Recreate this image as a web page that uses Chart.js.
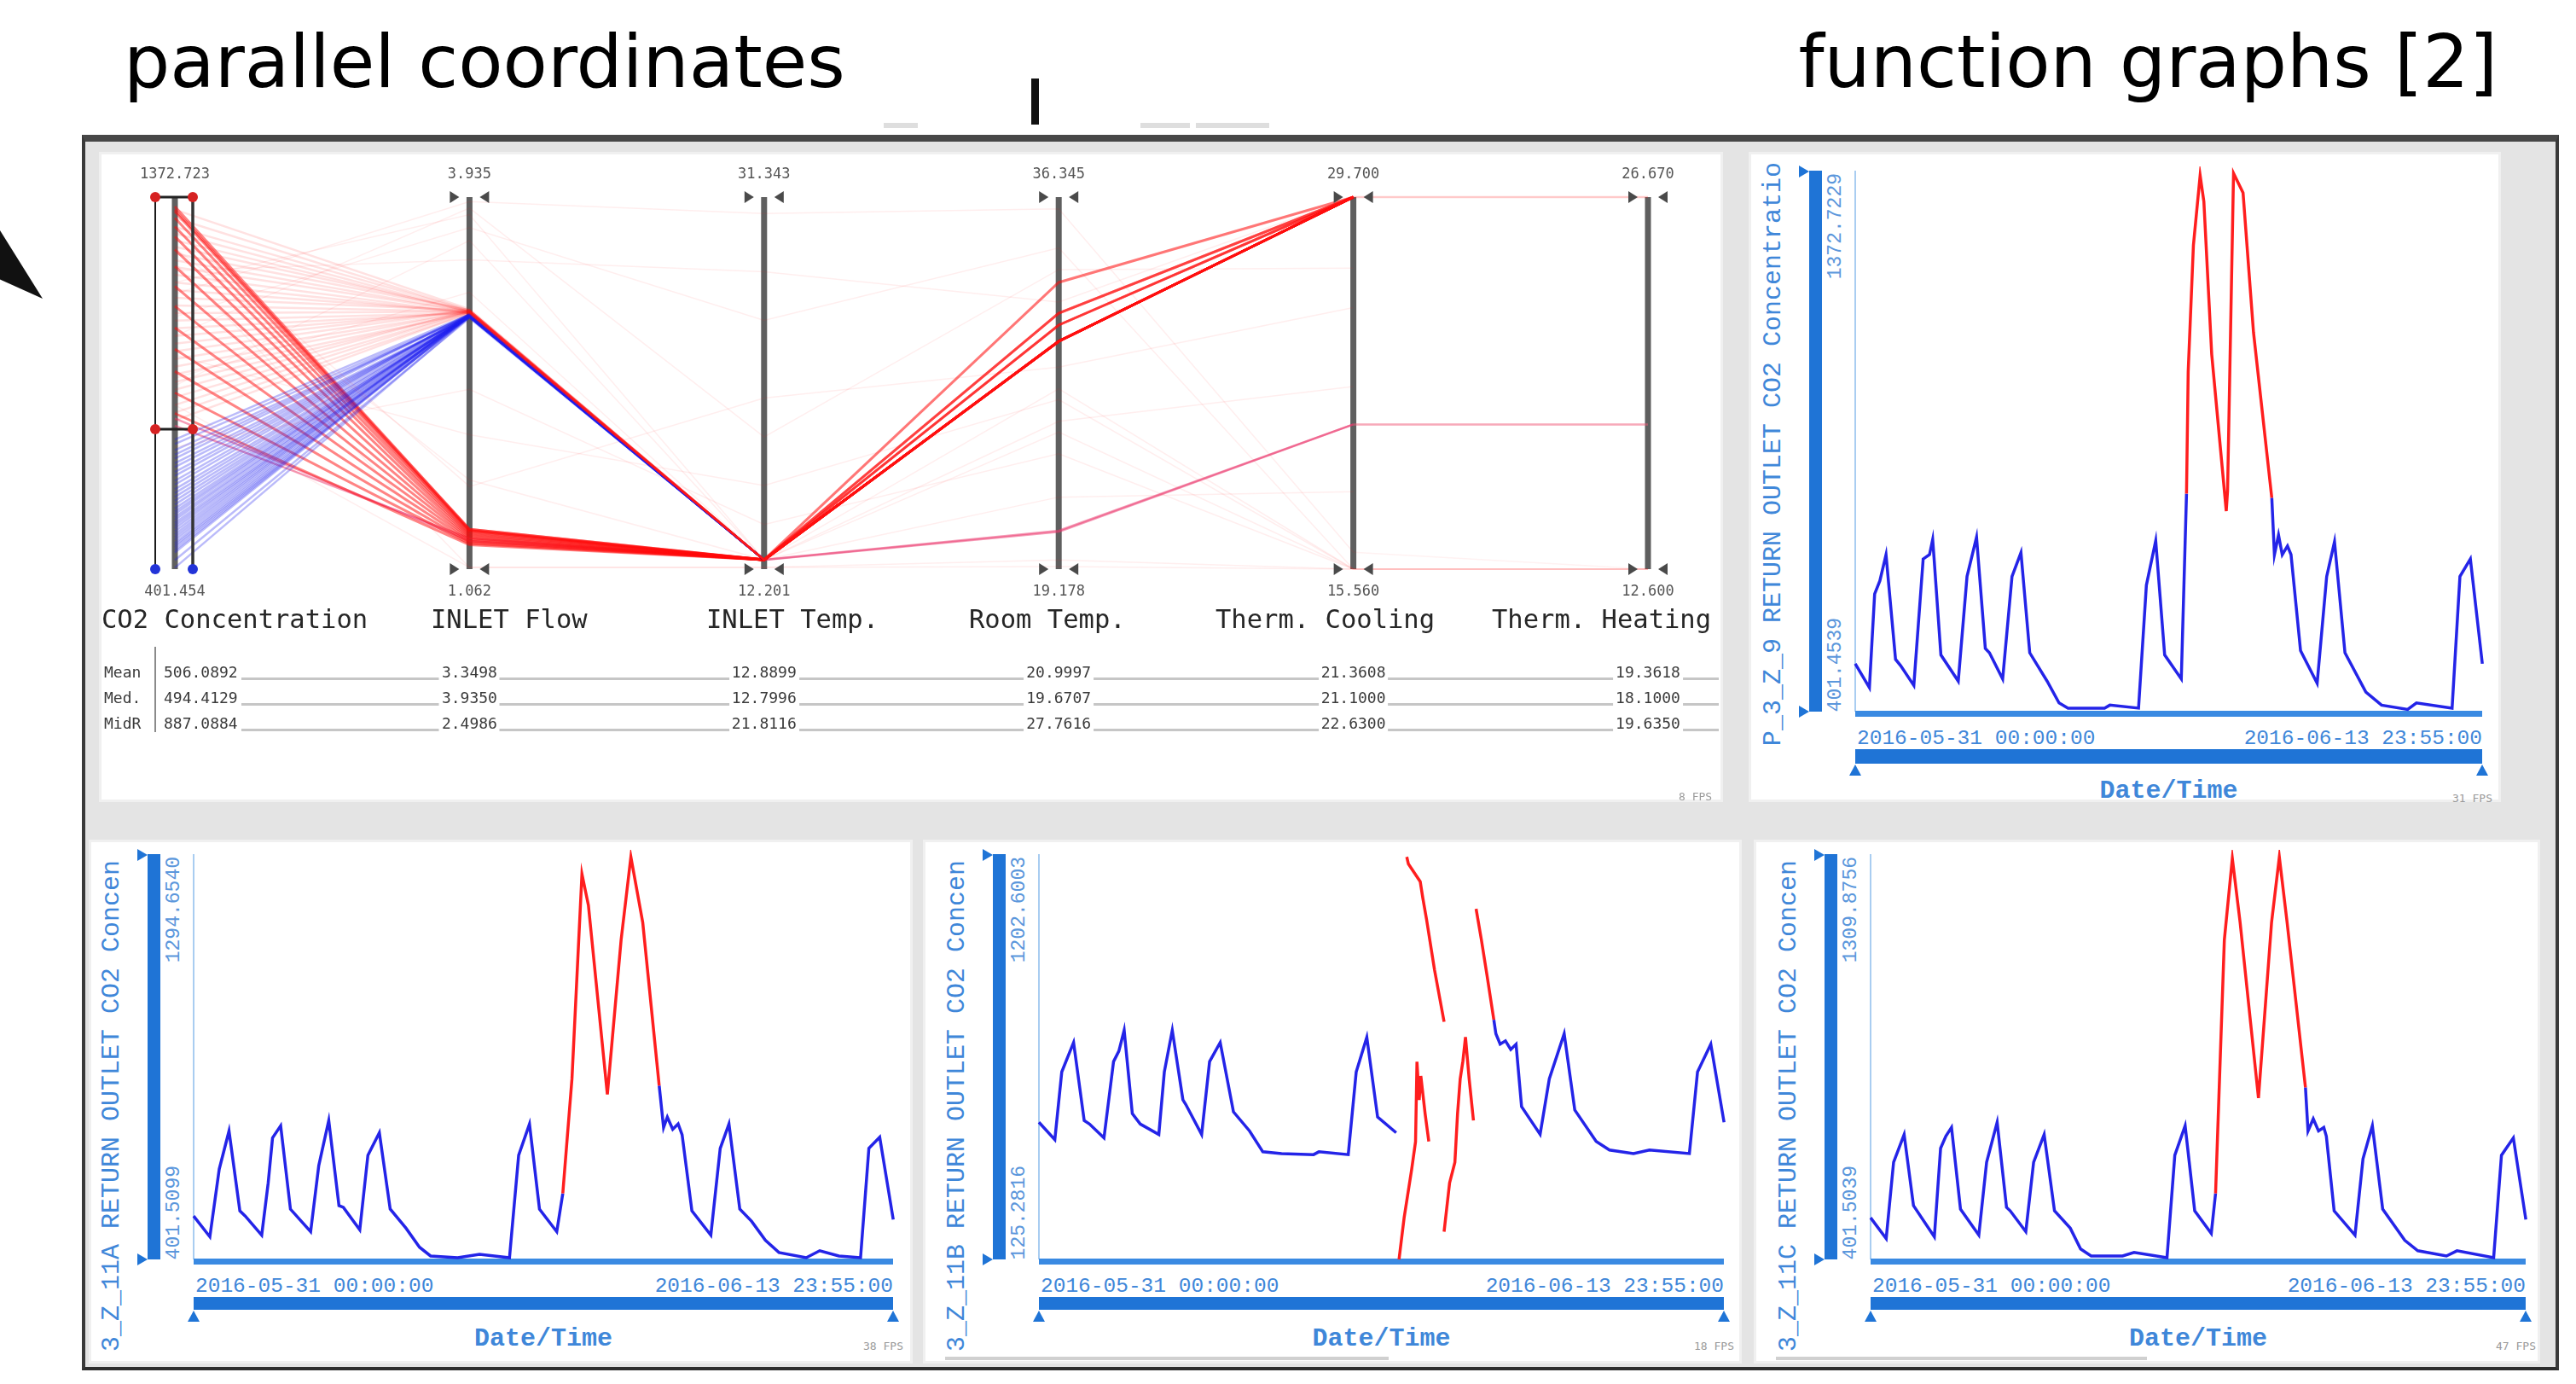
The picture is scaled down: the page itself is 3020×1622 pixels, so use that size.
<!DOCTYPE html>
<html>
<head>
<meta charset="utf-8">
<title>parallel coordinates / function graphs</title>
<script src="https://cdn.jsdelivr.net/npm/chart.js@4.4.3/dist/chart.umd.min.js"></script>
<style>
  html, body { margin: 0; padding: 0; background: #ffffff; }
  body { position: relative; width: 3020px; height: 1622px; overflow: hidden; font-family: "DejaVu Sans", sans-serif; }
  .abs { position: absolute; }
  .heading { position: absolute; top: 30px; font-family: "DejaVu Sans", sans-serif; font-size: 85.5px; line-height: 85.5px; color: #000; white-space: nowrap; }
  #frame { position: absolute; left: 96px; top: 158px; width: 2904px; height: 1448px; background: #e4e4e4; box-sizing: border-box;
           border-top: 8px solid #474747; border-left: 4px solid #3a3a3a; border-right: 4px solid #3a3a3a; border-bottom: 4px solid #2e2e2e; }
  .panel { position: absolute; background: #ffffff; overflow: hidden; box-shadow: inset 0 0 0 3px #f0f0f0; }
  .pc-tick { position: absolute; font-family: "DejaVu Sans Mono", monospace; font-size: 17px; line-height: 17px; color: #555; transform: translate(-50%, -50%); white-space: nowrap; }
  .pc-name { position: absolute; font-family: "DejaVu Sans Mono", monospace; font-size: 30.5px; line-height: 30px; color: #262626; white-space: nowrap; transform: translateY(-50%); }
  .pc-stat { position: absolute; font-family: "DejaVu Sans Mono", monospace; font-size: 18px; line-height: 18px; color: #3a3a3a; background: #fff; white-space: nowrap; transform: translateY(-50%); }
  .fg-text { position: absolute; font-family: "Liberation Mono", "Courier New", monospace; color: #3f87d9; white-space: nowrap; }
  .vert { writing-mode: vertical-rl; transform: rotate(180deg); }
  .fps { position: absolute; font-family: "DejaVu Sans Mono", monospace; font-size: 13px; line-height: 13px; color: #9a9a9a; white-space: nowrap; transform: translateY(-50%); }
  canvas { position: absolute; }
</style>
</head>
<body>
<div class="heading" style="left:145px;">parallel coordinates</div>
<div class="heading" style="right:92px;">function graphs [2]</div>
<div class="abs" style="left:0; top:270px; width:50px; height:80px; background:#111; clip-path: polygon(0 0, 100% 100%, 0 72%);"></div>
<div class="abs" style="left:1209px; top:92px; width:9px; height:54px; background:#111;"></div>
<div class="abs" style="left:1036px; top:144px; width:40px; height:6px; background:#dedede;"></div>
<div class="abs" style="left:1337px; top:144px; width:58px; height:6px; background:#dedede;"></div>
<div class="abs" style="left:1402px; top:144px; width:86px; height:6px; background:#dedede;"></div>
<div id="frame"></div>
<div class="panel" id="panel-pc" style="left:116px; top:178px; width:1904px; height:762px;"></div>
<canvas id="pc-chart" width="1919" height="770" style="left:106px; top:172px;"></canvas>

<script>
// ---------- parallel coordinates data ----------
const axisNames = ["CO2 Concentration", "INLET Flow", "INLET Temp.", "Room Temp.", "Therm. Cooling", "Therm. Heating"];
const axisMin = [401.454, 1.062, 12.201, 19.178, 15.560, 12.600];
const axisMax = [1372.723, 3.935, 31.343, 36.345, 29.700, 26.670];
const axisMinLabels = ["401.454", "1.062", "12.201", "19.178", "15.560", "12.600"];
const axisMaxLabels = ["1372.723", "3.935", "31.343", "36.345", "29.700", "26.670"];
const brushCo2 = [766.8, 1372.723];

const statNames = ["Mean", "Med.", "MidR"];
const statMean = ["506.0892", "3.3498", "12.8899", "20.9997", "21.3608", "19.3618"];
const statMedian = ["494.4129", "3.9350", "12.7996", "19.6707", "21.1000", "18.1000"];
const statMidRange = ["887.0884", "2.4986", "21.8116", "27.7616", "22.6300", "19.6350"];

// brushed records (red), low inlet flow
const pcSelectedLowFlow = [
  [1348, 1.37, 12.68, 29.69, 29.70, null],
  [1340, 1.37, 12.68, 29.69, 29.70, null],
  [1335, 1.36, 12.68, 29.69, 29.70, null],
  [1318, 1.36, 12.67, 30.44, 29.70, null],
  [1296, 1.35, 12.68, 29.69, 29.70, null],
  [1270, 1.34, 12.69, 30.99, 29.70, null],
  [1236, 1.33, 12.68, 29.69, 29.70, null],
  [1192, 1.32, 12.68, 29.69, 29.70, null],
  [1140, 1.31, 12.67, 30.44, 29.70, null],
  [1088, 1.30, 12.68, 29.69, 29.70, null],
  [1032, 1.29, 12.68, 29.69, 29.70, null],
  [976, 1.28, 12.69, 32.41, 29.70, null],
  [918, 1.27, 12.68, 29.69, 29.70, null],
  [862, 1.26, 12.68, 30.99, 29.70, null],
  [808, 1.25, 12.68, 29.69, 29.70, null],
];
// brushed records (red), high inlet flow
const pcSelectedHighFlow = [
  [1340, 3.07, 12.68, 29.69, 29.70, 26.67],
  [1318, 3.06, 12.68, 29.69, 29.70, null],
  [1295, 3.06, 12.68, 30.44, 29.70, null],
  [1278, 3.05, 12.68, 29.69, 29.70, null],
  [1260, 3.05, 12.68, 29.69, 29.70, null],
  [1243, 3.06, 12.67, 29.69, 29.70, null],
  [1225, 3.06, 12.67, 29.69, 29.70, null],
  [1208, 3.05, 12.68, 29.69, 29.70, null],
  [1190, 3.05, 12.68, 30.99, 29.70, 26.67],
  [1170, 3.04, 12.68, 29.69, 29.70, null],
  [1150, 3.04, 12.68, 29.69, 29.70, null],
  [1130, 3.05, 12.68, 29.69, 29.70, null],
  [1110, 3.06, 12.69, 29.69, 29.70, null],
  [1090, 3.05, 12.68, 29.69, 29.70, null],
  [1070, 3.05, 12.68, 30.44, 29.70, null],
  [1050, 3.04, 12.68, 29.69, 29.70, null],
  [1030, 3.04, 12.68, 29.69, 29.70, null],
  [1010, 3.05, 12.68, 29.69, 29.70, null],
  [990, 3.06, 12.68, 29.69, 29.70, null],
  [970, 3.06, 12.68, 29.69, 29.70, null],
  [950, 3.05, 12.67, 32.41, 29.70, null],
  [930, 3.05, 12.68, 29.69, 29.70, null],
  [910, 3.04, 12.68, 29.69, 29.70, null],
  [890, 3.05, 12.68, 29.69, 29.70, null],
  [870, 3.06, 12.68, 29.69, 29.70, null],
  [850, 3.05, 12.68, 29.69, 29.70, null],
  [830, 3.05, 12.68, 30.44, 29.70, null],
  [810, 3.04, 12.68, 29.69, 29.70, null],
  [790, 3.04, 12.68, 29.69, 29.70, null],
];
// brushed records on the warm-room path (pink)
const pcSelectedPink = [
  [795, 1.28, 12.68, 20.95, 21.06, 18.07],
  [776, 1.30, 12.67, 20.90, 21.06, 18.07],
];
// records outside the brush (blue)
const pcUnselected = [
  [740, 3.03, 12.68, null, null, null],
  [728, 3.02, 12.68, null, null, null],
  [712, 3.02, 12.68, null, null, null],
  [700, 3.03, 12.68, null, null, null],
  [690, 3.03, 12.68, null, null, null],
  [678, 3.01, 12.68, null, null, null],
  [668, 3.01, 12.68, null, null, null],
  [655, 3.02, 12.68, null, null, null],
  [645, 3.02, 12.68, null, null, null],
  [632, 3.03, 12.68, null, null, null],
  [622, 3.03, 12.68, null, null, null],
  [610, 3.02, 12.68, null, null, null],
  [600, 3.02, 12.68, null, null, null],
  [590, 3.01, 12.68, null, null, null],
  [580, 3.01, 12.68, null, null, null],
  [570, 3.02, 12.68, null, null, null],
  [560, 3.02, 12.68, null, null, null],
  [552, 3.03, 12.68, null, null, null],
  [545, 3.03, 12.68, null, null, null],
  [537, 3.02, 12.68, null, null, null],
  [530, 3.02, 12.68, null, null, null],
  [522, 3.01, 12.68, null, null, null],
  [515, 3.01, 12.68, null, null, null],
  [508, 3.02, 12.68, null, null, null],
  [500, 3.02, 12.68, null, null, null],
  [492, 3.03, 12.68, null, null, null],
  [485, 3.03, 12.68, null, null, null],
  [478, 3.02, 12.68, null, null, null],
  [470, 3.02, 12.68, null, null, null],
  [464, 3.01, 12.68, null, null, null],
  [458, 3.01, 12.68, null, null, null],
  [451, 3.02, 12.68, null, null, null],
  [445, 3.02, 12.68, null, null, null],
  [425, 3.00, 12.68, null, null, null],
  [405, 3.01, 12.68, null, null, null],
];
// faint context records
const pcContext = [
  [1120, 3.90, 30.5, 35.8, 16.2, 12.6],
  [1060, 3.70, 25.0, 34.0, 15.56, 12.6],
  [960, 2.10, 16.5, 27.0, 15.56, 12.6],
  [1240, 1.75, 12.68, 26.0, 22.5, null],
  [720, 2.45, 14.5, 24.5, 15.56, 12.6],
  [1180, 3.45, 27.5, 31.5, 29.7, 26.67],
  [880, 3.60, 12.68, 22.5, 18.5, null],
  [1290, 1.70, 21.0, 28.5, 25.5, null],
  [1010, 3.85, 19.0, 33.0, 27.0, null],
  [830, 1.075, 12.29, 19.6, 15.56, 12.6],
  [1200, 1.075, 12.29, 19.3, 15.56, 12.6],
  [1150, 3.80, 12.68, 27.5, 15.56, 12.6],
  [900, 3.20, 12.68, 25.5, 15.56, 12.6],
];

// ---------- function graph data (hours since 2016-05-31 00:00, CO2) ----------
const z9Points = [
  [0, 487.9], [7.6, 444.7], [10.4, 613.8], [13.2, 637.4], [16.5, 684.6], [21.6, 495.8], [24.4, 484.0], [31.4, 448.6],
  [36.4, 676.7], [39.8, 684.6], [41.5, 712.0], [42.2, 680.0], [45.9, 503.7], [55.2, 456.5], [59.9, 645.2], [65.0, 716.0],
  [69.7, 515.5], [71.9, 507.6], [79.0, 460.4], [84.0, 645.2], [88.8, 688.5], [93.5, 507.6], [102.8, 456.5], [109.2, 417.2],
  [114.0, 407.7], [133.6, 407.7], [136.4, 413.2], [151.8, 407.7], [156.0, 629.5], [161.0, 709.7], [165.8, 503.7], [174.7, 460.4],
  [177.5, 794.6], [178.4, 1014.8], [181.2, 1242.9], [184.8, 1368.7], [186.8, 1321.6], [191.0, 1046.3], [198.8, 763.2], [199.5, 800.0],
  [202.7, 1372.7], [207.8, 1337.3], [213.4, 1085.6], [223.2, 786.8], [224.6, 684.6], [226.8, 720.0], [228.8, 684.6], [231.6, 700.3],
  [233.5, 684.6], [238.6, 511.6], [247.5, 452.6], [252.6, 645.2], [256.8, 708.1], [262.4, 507.6], [273.6, 436.8], [282.0, 413.2],
  [296.0, 405.4], [300.7, 417.2], [319.8, 407.7], [324.0, 645.2], [329.6, 676.7], [336.0, 487.9],
];
const z11aPoints = [
  [0, 497.8], [7.8, 451.6], [12.3, 601.7], [17.0, 686.4], [22.2, 509.3], [24.8, 497.8], [32.7, 455.4], [35.8, 570.9],
  [37.9, 671.0], [41.8, 698.0], [46.5, 513.0], [56.2, 463.0], [60.1, 609.4], [64.9, 709.5], [69.8, 520.9], [71.9, 517.0],
  [79.8, 467.0], [83.7, 632.5], [89.2, 682.6], [94.4, 513.2], [102.0, 470.8], [108.5, 428.5], [113.8, 409.2], [126.8, 405.4],
  [137.3, 413.0], [151.7, 405.4], [156.1, 632.5], [161.3, 701.8], [166.1, 513.2], [174.4, 463.1], [177.3, 547.8], [181.7, 801.9],
  [186.5, 1256.0], [189.6, 1187.0], [198.7, 767.3], [205.3, 1110.0], [210.0, 1294.0], [215.7, 1148.4], [223.6, 786.6], [225.7, 694.0],
  [227.5, 717.0], [230.1, 690.0], [232.7, 702.0], [234.6, 678.0], [239.3, 509.3], [248.4, 455.4], [252.9, 647.9], [257.1, 701.8],
  [262.3, 513.2], [268.0, 486.0], [274.6, 443.9], [281.1, 416.9], [294.2, 405.4], [300.7, 420.8], [309.9, 409.2], [320.3, 405.4],
  [324.3, 647.9], [329.5, 672.5], [336.0, 490.0],
];
const z11bPoints = [
  [0, 492.1], [7.8, 445.7], [11.2, 626.8], [17.0, 705.7], [22.2, 496.8], [24.8, 487.5], [31.9, 450.3], [36.6, 654.6],
  [39.2, 682.5], [41.8, 738.2], [45.8, 515.3], [49.7, 487.5], [58.8, 459.6], [61.5, 626.8], [65.4, 738.2], [70.6, 552.5],
  [72.0, 540.0], [79.8, 459.6], [83.7, 654.6], [88.9, 705.7], [95.4, 520.0], [103.3, 468.9], [109.8, 413.2], [119.0, 408.5],
  [134.7, 405.7], [137.3, 413.2], [151.7, 405.7], [155.6, 626.8], [160.8, 719.6], [166.1, 506.1], [175.2, 464.3],
  null,
  [176.6, 125.3], [179.1, 236.7], [182.8, 366.0], [184.7, 440.0], [185.4, 654.0], [186.5, 552.0], [187.3, 616.0], [189.4, 515.0], [191.2, 441.0],
  null,
  [180.4, 1202.0], [181.2, 1183.0], [187.0, 1136.0], [188.3, 1091.0], [190.1, 1035.0], [194.0, 900.0], [198.7, 761.0],
  null,
  [198.7, 199.6], [201.4, 330.0], [204.0, 385.0], [205.3, 515.0], [206.6, 608.0], [207.9, 655.0], [209.2, 720.0], [211.0, 608.0], [213.1, 497.0],
  null,
  [214.4, 1063.0], [217.0, 980.0], [219.7, 887.0], [223.1, 766.0], [224.1, 729.0], [226.2, 701.0], [228.8, 710.0], [231.4, 687.0],
  [234.0, 701.0], [236.7, 534.0], [245.8, 460.0], [250.3, 608.0], [257.6, 729.0], [262.8, 525.0], [273.3, 441.0], [279.8, 418.0],
  [291.6, 408.5], [299.4, 418.0], [319.0, 408.5], [323.0, 627.0], [329.5, 701.0], [336.0, 492.1],
];
const z11cPoints = [
  [0, 495.5], [8.0, 448.5], [11.8, 620.8], [17.2, 683.4], [22.0, 522.9], [32.7, 452.4], [35.9, 652.1], [38.6, 679.5],
  [41.5, 699.1], [46.1, 515.0], [55.5, 456.3], [59.5, 620.8], [64.9, 710.8], [69.7, 519.0], [71.6, 511.1], [79.6, 464.1],
  [83.6, 620.8], [89.0, 683.4], [94.3, 511.1], [102.4, 472.0], [107.7, 425.0], [113.1, 409.3], [129.2, 409.3], [135.1, 417.2],
  [152.0, 405.4], [156.0, 636.4], [161.3, 703.0], [166.2, 511.1], [174.7, 460.2], [176.9, 550.3], [181.4, 1122.0], [185.5, 1306.0],
  [189.5, 1161.0], [198.9, 765.6], [205.6, 1161.0], [209.6, 1309.0], [213.6, 1161.0], [223.0, 789.1], [224.3, 691.2], [227.0, 718.6],
  [229.7, 691.2], [232.4, 699.1], [233.7, 679.5], [237.7, 511.1], [248.4, 456.3], [252.5, 628.6], [257.3, 703.0], [262.6, 515.0],
  [273.9, 444.6], [280.6, 421.1], [295.3, 409.3], [300.7, 421.1], [319.5, 405.4], [323.5, 636.4], [329.6, 675.6], [336.0, 491.6],
];

const fgSeries = [z9Points, z11aPoints, z11bPoints, z11cPoints];
const fgNames = ["P_3_Z_9 RETURN OUTLET CO2 Concentratio", "3_Z_11A RETURN OUTLET CO2 Concen", "3_Z_11B RETURN OUTLET CO2 Concen", "3_Z_11C RETURN OUTLET CO2 Concen"];
const fgMin = [401.4539, 401.5099, 125.2816, 401.5039];
const fgMax = [1372.7229, 1294.6540, 1202.6003, 1309.8756];
const fgMinLabels = ["401.4539", "401.5099", "125.2816", "401.5039"];
const fgMaxLabels = ["1372.7229", "1294.6540", "1202.6003", "1309.8756"];
const fgFps = ["31 FPS", "38 FPS", "18 FPS", "47 FPS"];
const dateRangeLabels = ["2016-05-31 00:00:00", "2016-06-13 23:55:00"];
const hoursSpan = 335.9167;
const selectedHours = [176.5, 224.0];

// ---------- layout ----------
const LINE_BLUE = "#2424e8";
const LINE_RED = "#ff1e1e";
const UI_BLUE = "#1f74d6";
const UI_BLUE_LIGHT = "#a9cdf1";

const pcBox = { left: 106, top: 172 };
const pcPad = { left: 99, right: 93, top: 59, bottom: 275 };
const pcNameLefts = [119, 505, 828, 1136, 1425, 1749];
const pcStatRowY = [788, 818, 848];

const fgLayout = [
  { panel: [2050, 178, 882, 762], plot: [2175, 203, 2910, 834], nameBottom: 874, barH: 17 },
  { panel: [104, 984, 966, 614], plot: [227, 1004, 1047, 1476], nameBottom: 1584, barH: 15 },
  { panel: [1082, 984, 960, 614], plot: [1218, 1004, 2021, 1476], nameBottom: 1584, barH: 15 },
  { panel: [2056, 984, 922, 614], plot: [2193, 1004, 2961, 1476], nameBottom: 1584, barH: 15 },
];

function addEl(parent, cls, css, text) {
  const node = document.createElement("div");
  if (cls) node.className = cls;
  Object.assign(node.style, css);
  if (text != null) node.textContent = text;
  parent.appendChild(node);
  return node;
}
const px = (v) => `${v}px`;

// ---------- parallel coordinates chart ----------
const norm = (v, i) => (v - axisMin[i]) / (axisMax[i] - axisMin[i]);

function recordDatasets(rows, color, faded, width) {
  return rows.map((row) => ({
    data: row.map((v, i) => ({ x: i, y: v == null ? null : norm(v, i) })),
    borderColor: color,
    borderWidth: width,
    pointRadius: 0,
    tension: 0,
    clip: false,
    segment: { borderColor: (ctx) => (ctx.p0DataIndex >= 4 ? faded : undefined) },
  }));
}

function triangle(ctx, xBase, y, dir, w, h) {
  ctx.beginPath();
  ctx.moveTo(xBase, y - h / 2);
  ctx.lineTo(xBase + dir * w, y);
  ctx.lineTo(xBase, y + h / 2);
  ctx.closePath();
  ctx.fill();
}

const pcAxesPlugin = {
  id: "pcAxes",
  beforeDatasetsDraw(chart) {
    const { ctx, scales } = chart;
    ctx.save();
    ctx.strokeStyle = "#5f5f5f";
    ctx.lineWidth = 7;
    axisNames.forEach((_, i) => {
      const x = scales.x.getPixelForValue(i);
      ctx.beginPath();
      ctx.moveTo(x, scales.y.getPixelForValue(1));
      ctx.lineTo(x, scales.y.getPixelForValue(0));
      ctx.stroke();
    });
    ctx.restore();
  },
  afterDatasetsDraw(chart) {
    const { ctx, scales } = chart;
    const yTop = scales.y.getPixelForValue(1);
    const yBot = scales.y.getPixelForValue(0);
    ctx.save();
    ctx.fillStyle = "#4a4a4a";
    for (let i = 1; i < axisNames.length; i++) {
      const x = scales.x.getPixelForValue(i);
      [yTop, yBot].forEach((y) => {
        triangle(ctx, x - 23, y, 1, 11, 14);
        triangle(ctx, x + 23, y, -1, 11, 14);
      });
    }
    // brush box on the CO2 axis
    const x0 = scales.x.getPixelForValue(0);
    const xl = x0 - 23;
    const xr = x0 + 21;
    const yLo = scales.y.getPixelForValue(norm(brushCo2[0], 0));
    const yHi = scales.y.getPixelForValue(norm(brushCo2[1], 0));
    ctx.strokeStyle = "#1a1a1a";
    ctx.lineWidth = 2;
    ctx.beginPath();
    ctx.moveTo(xl, yTop); ctx.lineTo(xl, yBot);
    ctx.stroke();
    ctx.strokeStyle = "#333";
    ctx.lineWidth = 3.5;
    ctx.beginPath();
    ctx.moveTo(xr, yTop); ctx.lineTo(xr, yBot);
    ctx.stroke();
    ctx.strokeStyle = "#222";
    ctx.lineWidth = 3;
    ctx.beginPath();
    ctx.moveTo(xl, yHi); ctx.lineTo(xr, yHi);
    ctx.moveTo(xl, yLo); ctx.lineTo(xr, yLo);
    ctx.stroke();
    const dot = (x, y, fill) => {
      ctx.beginPath();
      ctx.arc(x, y, 6, 0, Math.PI * 2);
      ctx.fillStyle = fill;
      ctx.fill();
    };
    [xl, xr].forEach((x) => {
      dot(x, yHi, "#d62222");
      dot(x, yLo, "#d62222");
      dot(x, yBot, "#2233d8");
    });
    ctx.restore();
  },
};

const pcChart = new Chart(document.getElementById("pc-chart"), {
  type: "line",
  data: {
    datasets: [
      ...recordDatasets(pcContext, "rgba(255,40,40,0.08)", "rgba(255,40,40,0.06)", 1.5),
      ...recordDatasets(pcSelectedHighFlow, "rgba(255,20,20,0.13)", "rgba(255,20,20,0.1)", 2.5),
      ...recordDatasets(pcUnselected, "rgba(30,30,240,0.3)", "rgba(30,30,240,0.12)", 2.5),
      ...recordDatasets(pcSelectedLowFlow, "rgba(255,10,10,0.5)", "rgba(255,10,10,0.25)", 3),
      ...recordDatasets(pcSelectedPink, "rgba(235,55,110,0.5)", "rgba(240,90,120,0.3)", 2.5),
    ],
  },
  options: {
    responsive: false,
    animation: false,
    events: [],
    layout: { padding: pcPad },
    plugins: { legend: { display: false }, tooltip: { enabled: false } },
    scales: {
      x: { type: "linear", min: 0, max: axisNames.length - 1, display: false },
      y: { type: "linear", min: 0, max: 1, display: false },
    },
  },
  plugins: [pcAxesPlugin],
});

const pcX = axisNames.map((_, i) => pcBox.left + pcChart.scales.x.getPixelForValue(i));
const pcYTop = pcBox.top + pcChart.scales.y.getPixelForValue(1);
const pcYBot = pcBox.top + pcChart.scales.y.getPixelForValue(0);

axisNames.forEach((name, i) => {
  addEl(document.body, "pc-tick", { left: px(pcX[i]), top: px(pcYTop - 28) }, axisMaxLabels[i]);
  addEl(document.body, "pc-tick", { left: px(pcX[i]), top: px(pcYBot + 25) }, axisMinLabels[i]);
  addEl(document.body, "pc-name", { left: px(pcNameLefts[i]), top: px(726) }, name);
});

// statistics table
[statMean, statMedian, statMidRange].forEach((row, r) => {
  const y = pcStatRowY[r];
  addEl(document.body, "abs", { left: px(192), top: px(y + 6), width: px(2015 - 192), height: px(3), background: "#c6c6c6" });
  addEl(document.body, "pc-stat", { left: px(122), top: px(y) }, statNames[r]);
  addEl(document.body, "pc-stat", { left: px(192), top: px(y), paddingRight: "4px" }, row[0]);
  row.slice(1).forEach((val, k) => {
    const node = addEl(document.body, "pc-stat", { left: px(pcX[k + 1]), top: px(y), padding: "0 3px" }, val);
    node.style.transform = "translate(-50%, -50%)";
  });
});
addEl(document.body, "abs", { left: px(181), top: px(758), width: px(2), height: px(100), background: "#8a8a8a" });
addEl(document.body, "fps", { left: px(1968), top: px(933) }, "8 FPS");

// ---------- function graphs ----------
function seriesData(points) {
  const out = [];
  let lastX = 0;
  points.forEach((p) => {
    if (p === null) {
      out.push({ x: lastX, y: null });
      return;
    }
    out.push({ x: p[0], y: p[1] });
    lastX = p[0];
  });
  return out;
}
const inSelection = (ctx) => ctx.p0.parsed.x >= selectedHours[0] && ctx.p1.parsed.x <= selectedHours[1];

function triDiv(css) {
  return addEl(document.body, "abs", Object.assign({ width: "0", height: "0" }, css));
}

fgSeries.forEach((points, i) => {
  const lay = fgLayout[i];
  const [L, T, R, B] = lay.plot;
  const [pl, pt, pw, ph] = lay.panel;
  const panel = addEl(document.body, "panel", { left: px(pl), top: px(pt), width: px(pw), height: px(ph) });

  // vertical axis title (clipped by the panel)
  addEl(panel, "fg-text vert", {
    left: px(L - 96 - 15 - pl), bottom: px(pt + ph - lay.nameBottom),
    fontSize: "30px", lineHeight: "30px",
  }, fgNames[i]);

  // vertical range bar and handles
  addEl(document.body, "abs", { left: px(L - 54), top: px(T - 3), width: px(15), height: px(B - T + 3), background: UI_BLUE });
  triDiv({ left: px(L - 66), top: px(T - 9), borderTop: "7px solid transparent", borderBottom: "7px solid transparent", borderLeft: `12px solid ${UI_BLUE}` });
  triDiv({ left: px(L - 66), top: px(B - 7), borderTop: "7px solid transparent", borderBottom: "7px solid transparent", borderLeft: `12px solid ${UI_BLUE}` });

  // min / max tick labels
  addEl(document.body, "fg-text vert", { left: px(L - 35), top: px(T), fontSize: "23px", lineHeight: "24px", color: "#5b97dc" }, fgMaxLabels[i]);
  addEl(document.body, "fg-text vert", { left: px(L - 35), bottom: px(1622 - B), fontSize: "23px", lineHeight: "24px", color: "#5b97dc" }, fgMinLabels[i]);

  // thin y axis line and thick base line
  addEl(document.body, "abs", { left: px(L - 1), top: px(T - 3), width: px(2), height: px(B - T + 3), background: UI_BLUE_LIGHT });
  addEl(document.body, "abs", { left: px(L), top: px(B - 1), width: px(R - L), height: px(7), background: "#3a8ae2" });

  // date range labels
  addEl(document.body, "fg-text", { left: px(L + 2), top: px(B + 32), fontSize: "24.5px", lineHeight: "24px", transform: "translateY(-50%)" }, dateRangeLabels[0]);
  addEl(document.body, "fg-text", { right: px(3020 - R), top: px(B + 32), fontSize: "24.5px", lineHeight: "24px", transform: "translateY(-50%)" }, dateRangeLabels[1]);

  // horizontal range bar and handles
  addEl(document.body, "abs", { left: px(L), top: px(B + 44), width: px(R - L), height: px(lay.barH), background: UI_BLUE });
  [L, R].forEach((x) => {
    triDiv({ left: px(x - 7), top: px(B + 45 + lay.barH), borderLeft: "7px solid transparent", borderRight: "7px solid transparent", borderBottom: `13px solid ${UI_BLUE}` });
  });

  addEl(document.body, "fg-text", { left: px((L + R) / 2), top: px(B + 93), fontSize: "30px", lineHeight: "30px", fontWeight: "bold", transform: "translate(-50%, -50%)" }, "Date/Time");
  addEl(document.body, "fps", { right: px(3020 - R - 12), top: px(B + 101) }, fgFps[i]);

  if (i >= 2) {
    addEl(panel, "abs", { left: px(26), top: px(ph - 8), width: px(i === 2 ? 520 : 435), height: px(4), background: "#d0d0d0" });
  }

  const canvas = document.createElement("canvas");
  canvas.width = R - L + 24;
  canvas.height = B - T + 24;
  canvas.style.left = px(L - 12);
  canvas.style.top = px(T - 12);
  document.body.appendChild(canvas);

  new Chart(canvas, {
    type: "line",
    data: {
      datasets: [{
        data: seriesData(points),
        borderColor: LINE_BLUE,
        borderWidth: 3.5,
        pointRadius: 0,
        tension: 0,
        spanGaps: false,
        clip: 8,
        segment: { borderColor: (ctx) => (inSelection(ctx) ? LINE_RED : LINE_BLUE) },
      }],
    },
    options: {
      responsive: false,
      animation: false,
      events: [],
      layout: { padding: 12 },
      plugins: { legend: { display: false }, tooltip: { enabled: false } },
      scales: {
        x: { type: "linear", min: 0, max: hoursSpan, display: false },
        y: { type: "linear", min: fgMin[i], max: fgMax[i], display: false },
      },
    },
  });
});
</script>
</body>
</html>
